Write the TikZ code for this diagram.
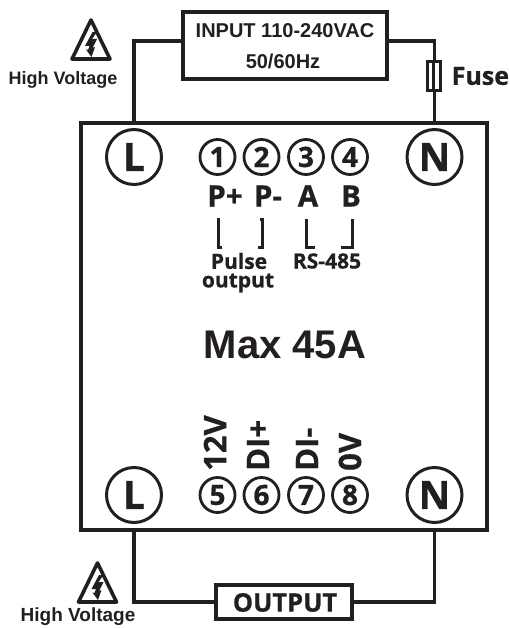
\documentclass[tikz,border=0pt]{standalone}
\usepackage{fontspec}
\setmainfont{Liberation Sans}
\newfontfamily\opensans[BoldFeatures={FakeBold=0.7}]{Open Sans}
\usetikzlibrary{positioning}
\definecolor{ink}{HTML}{231F20}
\tikzstyle{wire}=[draw=ink, line width=3.3pt, line join=miter]
\tikzstyle{box}=[rectangle, draw=ink, line width=4pt, inner sep=0pt, fill=white]
\tikzstyle{bigterm}=[circle, draw=ink, line width=3pt, inner sep=0pt, minimum size=55pt, text=ink, font=\opensans\bfseries\fontsize{39}{39}\selectfont]
\tikzstyle{pin}=[circle, draw=ink, line width=2.8pt, inner sep=0pt, minimum size=35pt, text=ink, font=\opensans\bfseries\fontsize{28}{28}\selectfont]
\tikzstyle{tag}=[inner sep=0pt, text=ink, font=\opensans\bfseries\fontsize{29.5}{29.5}\selectfont]
\tikzstyle{small}=[inner sep=0pt, text=ink, font=\opensans\bfseries\fontsize{21}{21}\selectfont]
\tikzstyle{uptag}=[inner sep=0pt, text=ink, rotate=90, anchor=west, font=\opensans\bfseries\fontsize{31}{31}\selectfont]
\tikzstyle{warn}=[inner sep=0pt, text=ink, font=\bfseries\fontsize{18}{18}\selectfont]
\tikzstyle{bracket}=[draw=ink, line width=3pt]
\newcommand{\hazard}[1]{
\begin{scope}[shift={#1}]
\draw[draw=ink, line width=3.6pt, line join=round] (0,0) -- (-19,39) -- (19,39) -- cycle;
\fill[ink] (1.5,12) -- (-6,26) -- (-1.5,26) -- (-3,30) -- (-5,29.5) -- (0.5,37) -- (4,27) -- (1.5,28) -- (6,19) -- (1,19) -- (6,12) -- cycle;
\end{scope}
}

\begin{document}
\begin{tikzpicture}[x=1pt, y=-1pt]
\useasboundingbox (0,0) rectangle (509,628);
% main body and the two outside boxes
\node[box, minimum width=406pt, minimum height=407pt] (main) at (284,326.5) {};
\node[box, minimum width=204pt, minimum height=67pt] (input) at (284.5,45.5) {};
\node[box, minimum width=136pt, minimum height=34pt] (output) at (284,602) {};
\node[inner sep=0pt, text=ink, font=\bfseries\fontsize{20}{20}\selectfont] (inputa) at (285,31) {INPUT 110-240VAC};
\node[inner sep=0pt, text=ink, font=\bfseries\fontsize{20}{20}\selectfont] (inputb) at (283,61) {50/60Hz};
\node[inner sep=0pt, text=ink, font=\opensans\bfseries\fontsize{25.5}{25.5}\selectfont] (outputlabel) at (285,602.5) {OUTPUT};
\node[inner sep=0pt, text=ink, font=\bfseries\fontsize{40}{40}\selectfont] (max) at (285,345) {Max 45A};
% terminals
\node[bigterm] (L1) at (134,157) {L};
\node[bigterm] (N1) at (434.5,157) {N};
\node[bigterm] (L2) at (134,495) {L};
\node[bigterm] (N2) at (434.5,495) {N};
\node[pin] (p1) at (217.5,157) {1};
\node[pin] (p2) at (261.5,157) {2};
\node[pin] (p3) at (306,157) {3};
\node[pin] (p4) at (350,157) {4};
\node[pin] (p5) at (217.5,495) {5};
\node[pin] (p6) at (261.5,495) {6};
\node[pin] (p7) at (306,495) {7};
\node[pin] (p8) at (350,495) {8};
\node[tag] (pplus) at (225,196) {P+};
\node[tag] (pminus) at (268,196) {P-};
\node[tag] (a) at (308,196) {A};
\node[tag] (b) at (351,196) {B};
\node[small] (pulse) at (239,261) {Pulse};
\node[small] (pout) at (238,283) {output};
\node[small] (rs) at (327,261) {RS-485};
\node[uptag] (v12) at (215,471) {12V};
\node[uptag] (diplus) at (258,471) {DI+};
\node[uptag] (diminus) at (307,471) {DI-};
\node[uptag] (v0) at (350,471) {0V};
\draw[bracket] (220,219) -- (218,219) -- (218,247) -- (222,247);
\draw[bracket] (260,219) -- (262,219) -- (262,247) -- (258,247);
\draw[bracket] (306,219) -- (306,247) -- (315,247);
\draw[bracket] (352,219) -- (352,247) -- (341,247);
% wires
\coordinate (cornerL) at (134,41);
\coordinate (cornerN) at (434.5,41);
\coordinate (cornerLo) at (134,602);
\coordinate (cornerNo) at (434.5,602);
\node[rectangle, draw=ink, line width=3pt, fill=white, inner sep=0pt, minimum width=13pt, minimum height=29pt] (fuse) at (433.5,76) {};
\path[wire] (input.east |- cornerN) -- (cornerN) -- (fuse.north -| cornerN);
\path[wire] (fuse.south -| cornerN) -- (cornerN |- main.north);
\draw[ink, line width=2.8pt] (fuse.north) -- (fuse.south);
\path[wire] (input.west |- cornerL) -- (cornerL) -- (cornerL |- main.north);
\path[wire] (output.west) -- (cornerLo) -- (cornerLo |- main.south);
\path[wire] (output.east) -- (cornerNo) -- (cornerNo |- main.south);
\node[inner sep=0pt, text=ink, font=\opensans\bfseries\fontsize{25}{25}\selectfont, right=10pt of fuse] (fuselabel) {Fuse};
% signs
\hazard{(91,20)}
\node[warn] (hv1) at (63,80) {High Voltage};
\hazard{(97.5,563)}
\node[warn, font=\bfseries\fontsize{19}{19}\selectfont] (hv2) at (78,617) {High Voltage};
\end{tikzpicture}
\end{document}
